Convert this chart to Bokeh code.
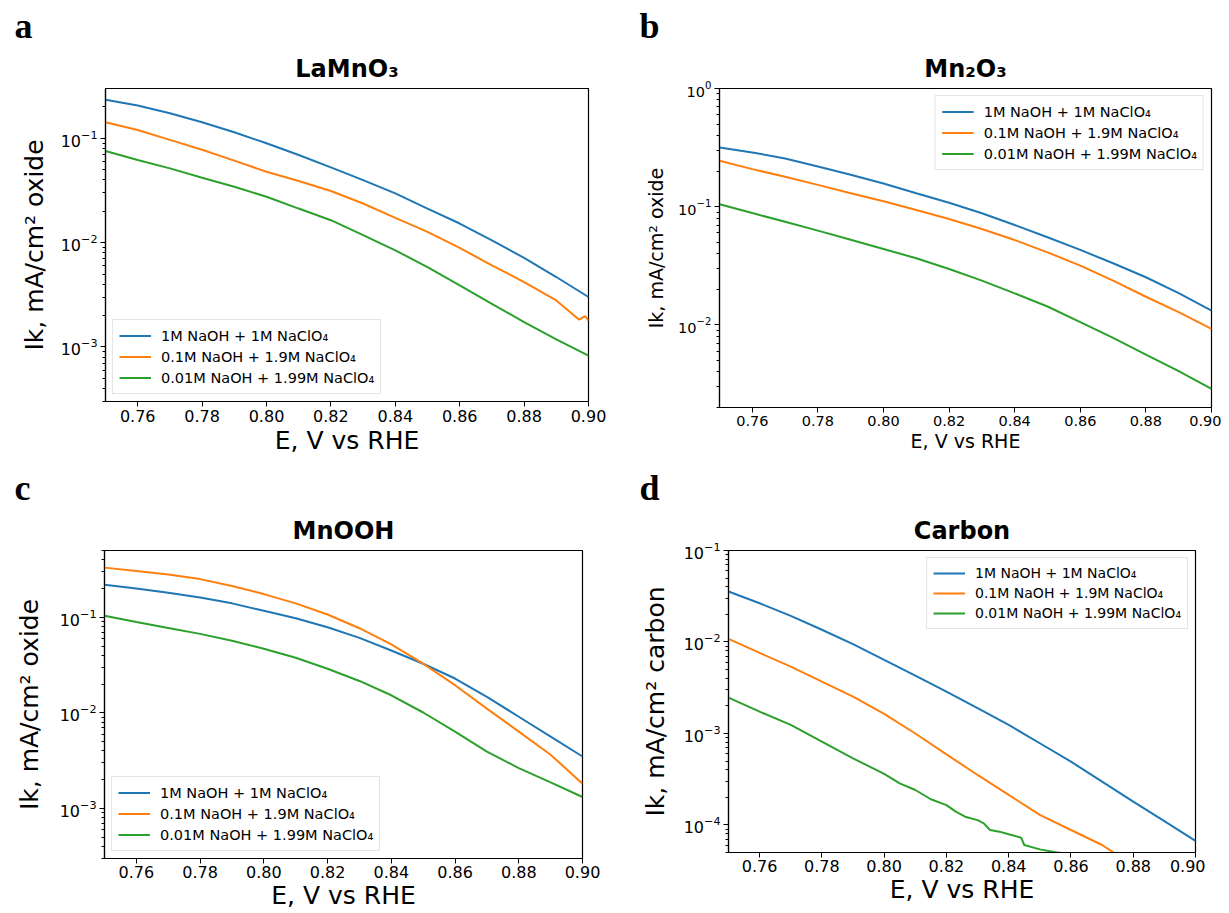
from bokeh.plotting import figure
from bokeh.models import Title, Legend, LegendItem, FixedTicker, LogTickFormatter, PrintfTickFormatter
from bokeh.layouts import column, row
from bokeh.embed import file_html
from bokeh.resources import INLINE

# ---------------- data ----------------
E = [0.75, 0.76, 0.77, 0.78, 0.79, 0.80, 0.81, 0.82, 0.83, 0.84, 0.85, 0.86, 0.87, 0.88, 0.89, 0.90]

# (a) LaMnO3
a_blue = [0.234, 0.206, 0.174, 0.1426, 0.1143, 0.0895, 0.0692, 0.0526, 0.0397, 0.0296, 0.0212, 0.01524, 0.01052, 0.00713, 0.00468, 0.00301]
a_orange_E = [0.75, 0.76, 0.77, 0.78, 0.79, 0.80, 0.81, 0.82, 0.83, 0.84, 0.85, 0.86, 0.87, 0.88, 0.89, 0.895, 0.897, 0.899, 0.90]
a_orange = [0.1426, 0.1202, 0.0966, 0.0776, 0.0610, 0.0478, 0.0389, 0.0312, 0.0237, 0.01726, 0.01268, 0.00889, 0.00605, 0.00419, 0.00279, 0.00207, 0.00183, 0.00197, 0.00179]
a_green = [0.0755, 0.0619, 0.0515, 0.0419, 0.0343, 0.0275, 0.0212, 0.0164, 0.01178, 0.00843, 0.00583, 0.00389, 0.00259, 0.00173, 0.00118, 0.000826]

# (b) Mn2O3
b_blue = [0.317, 0.288, 0.256, 0.219, 0.186, 0.157, 0.130, 0.108, 0.0879, 0.0700, 0.0551, 0.0431, 0.0332, 0.0253, 0.0186, 0.0132]
b_orange = [0.245, 0.208, 0.179, 0.153, 0.130, 0.111, 0.0938, 0.0787, 0.0647, 0.0522, 0.0411, 0.0317, 0.0237, 0.0173, 0.0128, 0.00925]
b_green = [0.105, 0.0883, 0.0746, 0.0627, 0.0526, 0.0439, 0.0366, 0.0297, 0.0237, 0.0185, 0.0143, 0.01054, 0.00776, 0.00561, 0.00406, 0.00288]

# (c) MnOOH
c_blue = [0.219, 0.200, 0.181, 0.161, 0.140, 0.117, 0.0977, 0.0787, 0.0610, 0.0450, 0.0327, 0.0229, 0.0147, 0.00912, 0.00565, 0.00350]
c_orange = [0.331, 0.305, 0.280, 0.251, 0.213, 0.175, 0.140, 0.107, 0.0769, 0.0520, 0.0327, 0.0195, 0.0111, 0.00637, 0.00365, 0.00182]
c_green = [0.104, 0.0893, 0.0774, 0.0671, 0.0568, 0.0469, 0.0378, 0.0290, 0.0216, 0.0153, 0.0101, 0.00637, 0.00394, 0.00265, 0.00188, 0.00132]

# (d) Carbon
d_blue = [0.0356, 0.0265, 0.0193, 0.0136, 0.00946, 0.00637, 0.00430, 0.00287, 0.00189, 0.00124, 0.000782, 0.000492, 0.000298, 0.000180, 0.000110, 0.0000668]
d_orange_E = [0.75, 0.76, 0.77, 0.78, 0.79, 0.80, 0.81, 0.82, 0.83, 0.84, 0.85, 0.86, 0.87, 0.875]
d_orange = [0.0108, 0.00759, 0.00537, 0.00369, 0.00253, 0.00164, 0.00100, 0.000592, 0.000352, 0.000213, 0.000129, 0.0000881, 0.0000604, 0.0000468]
d_green_E = [0.75, 0.76, 0.77, 0.78, 0.79, 0.80, 0.805, 0.81, 0.815, 0.82, 0.823, 0.826, 0.83, 0.832, 0.834, 0.837, 0.84, 0.844, 0.845, 0.85, 0.855, 0.86]
d_green = [0.00247, 0.00173, 0.00124, 0.000815, 0.000535, 0.000361, 0.000285, 0.000241, 0.000191, 0.000165, 0.000140, 0.000123, 0.000113, 0.000104, 0.0000881, 0.0000845, 0.0000791, 0.0000726, 0.0000604, 0.0000541, 0.0000502, 0.0000479]

series_labels = ["1M NaOH + 1M NaClO\u2084", "0.1M NaOH + 1.9M NaClO\u2084", "0.01M NaOH + 1.99M NaClO\u2084"]
colors = ["#1f77b4", "#ff7f0e", "#2ca02c"]
x_ticks = [0.76, 0.78, 0.80, 0.82, 0.84, 0.86, 0.88, 0.90]

FONT = "DejaVu Sans"


def make_panel(letter, title, ylabel, xs_list, ys_list, y_range, decades, cfg):
    p = figure(y_axis_type="log", x_range=(0.75, 0.90), y_range=y_range,
               frame_width=cfg["fw"], frame_height=cfg["fh"],
               min_border_left=cfg["bl"], min_border_right=cfg["br"],
               min_border_top=cfg["bt"], min_border_bottom=cfg["bb"],
               title_location=None,
               output_backend="svg", toolbar_location=None)
    p.grid.visible = False
    p.background_fill_color = "white"
    p.border_fill_color = "white"
    p.outline_line_color = "black"
    p.outline_line_width = 1.2
    p.outline_line_alpha = 1.0

    # chemical title (closest to frame), then panel letter above it
    p.add_layout(Title(text=title, align="center", text_font=FONT, text_font_size="24px",
                       text_font_style="bold", text_color="black", standoff=cfg.get("ts", 11)), "above")
    p.add_layout(Title(text=letter, align="left", offset=cfg["lx"], text_font="Liberation Serif",
                       text_font_size="36px", text_font_style="bold", text_color="black",
                       standoff=cfg.get("lts", 4)), "above")

    renderers = []
    for xs, ys, c in zip(xs_list, ys_list, colors):
        r = p.line(xs, ys, line_color=c, line_width=2)
        renderers.append(r)

    leg_fs = cfg.get("leg_fs", 14.5)
    leg_h = cfg.get("leg_h", 19)
    legend = Legend(items=[LegendItem(label=l, renderers=[r]) for l, r in zip(series_labels, renderers)],
                    location=cfg["legloc"])
    legend.label_text_font = FONT
    legend.label_text_font_size = f"{leg_fs}px"
    legend.label_text_color = "black"
    legend.glyph_width = 32
    legend.glyph_height = leg_h
    legend.label_height = leg_h
    legend.label_standoff = 10
    legend.spacing = 2
    legend.padding = 6
    legend.margin = 7
    legend.border_line_color = "#cccccc"
    legend.border_line_width = 1
    legend.background_fill_alpha = 0.85
    p.add_layout(legend)

    # x axis
    xa = p.xaxis[0]
    xa.ticker = FixedTicker(ticks=x_ticks)
    xa.formatter = PrintfTickFormatter(format="%.2f")
    xa.axis_label = "E, V vs RHE"
    # y axis
    ya = p.yaxis[0]
    major = [10.0 ** d for d in decades]
    minor = [k * 10.0 ** d for d in decades for k in range(2, 10)]
    ya.ticker = FixedTicker(ticks=major, minor_ticks=minor)
    ya.formatter = LogTickFormatter()
    ya.axis_label = ylabel

    for ax in (xa, ya):
        ax.axis_line_color = "black"
        ax.axis_line_width = 1.2
        ax.major_tick_line_color = "black"
        ax.minor_tick_line_color = "black"
        ax.major_tick_out = 5
        ax.major_tick_in = 0
        ax.minor_tick_out = 3
        ax.minor_tick_in = 0
        ax.major_label_text_font = FONT
        ax.major_label_text_color = "black"
        ax.major_label_text_font_size = cfg["tick_fs"]
        ax.axis_label_text_font = FONT
        ax.axis_label_text_font_style = "normal"
        ax.axis_label_text_color = "black"
        ax.major_label_standoff = 3
    xa.minor_tick_line_color = None
    xa.major_label_standoff = cfg.get("xms", 3)
    xa.axis_label_text_font_size = cfg["xl_fs"]
    ya.axis_label_text_font_size = cfg["yl_fs"]
    xa.axis_label_standoff = cfg.get("xls", 2)
    ya.axis_label_standoff = cfg.get("yls", 8)
    return p


pa = make_panel("a", "LaMnO\u2083", "Ik, mA/cm\u00b2 oxide", [E, a_orange_E, E], [a_blue, a_orange, a_green],
                (3.0e-4, 0.30), [-4, -3, -2, -1],
                dict(fw=483, fh=313, bl=105, br=22, bt=87, bb=58, tick_fs="16px", xl_fs="25px", yl_fs="25px",
                     legloc="bottom_left", lx=-91, yls=9, xls=1))
pb = make_panel("b", "Mn\u2082O\u2083", "Ik, mA/cm\u00b2 oxide", [E, E, E], [b_blue, b_orange, b_green],
                (2.0e-3, 1.0), [-3, -2, -1, 0],
                dict(fw=492, fh=319, bl=109, br=10, bt=88, bb=51, tick_fs="14.5px", xl_fs="19px", yl_fs="19px",
                     legloc="top_right", lx=-80, yls=8, xls=1))
pc = make_panel("c", "MnOOH", "Ik, mA/cm\u00b2 oxide", [E, E, E], [c_blue, c_orange, c_green],
                (3.0e-4, 0.50), [-4, -3, -2, -1],
                dict(fw=478, fh=308, bl=104, br=28, bt=92, bb=55, tick_fs="16px", xl_fs="25px", yl_fs="25px",
                     legloc="bottom_left", lx=-90, yls=13, xls=0, xms=2))
pd = make_panel("d", "Carbon", "Ik, mA/cm\u00b2 carbon", [E, d_orange_E, d_green_E], [d_blue, d_orange, d_green],
                (5.0e-5, 0.1), [-5, -4, -3, -2, -1],
                dict(fw=467, fh=302, bl=118, br=10, bt=91, bb=62, tick_fs="16px", xl_fs="25px", yl_fs="25px",
                     legloc="top_right", lx=-89, yls=11, xls=0, xms=2, leg_fs=14, leg_h=18))

layout = column(row(pa, pb), row(pc, pd))
open("out.html", "w").write(file_html(layout, INLINE))
